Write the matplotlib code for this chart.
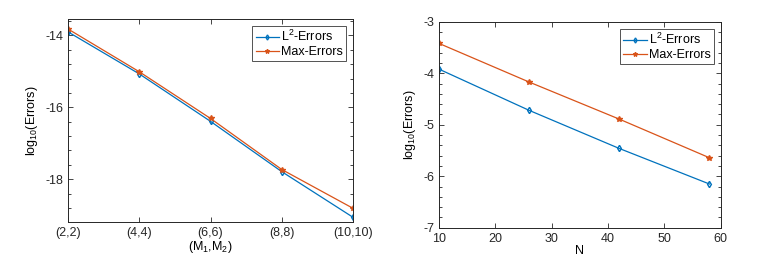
import matplotlib
matplotlib.use("Agg")
import matplotlib.pyplot as plt
from matplotlib.ticker import MultipleLocator

plt.rcParams['font.family'] = ['Liberation Sans', 'DejaVu Sans']
plt.rcParams['mathtext.fontset'] = 'custom'
plt.rcParams['mathtext.rm'] = 'Liberation Sans'
plt.rcParams['mathtext.it'] = 'Liberation Sans'
plt.rcParams['axes.unicode_minus'] = False
plt.rcParams['font.size'] = 9

# left panel: errors vs (M1,M2)
m_labels = ['(2,2)', '(4,4)', '(6,6)', '(8,8)', '(10,10)']
m_pos = [2, 4, 6, 8, 10]
l2_left = [-13.90, -15.07, -16.39, -17.79, -19.06]
max_left = [-13.82, -15.01, -16.31, -17.73, -18.81]

# right panel: errors vs N
n_vals = [10, 26, 42, 58]
l2_right = [-3.92, -4.72, -5.46, -6.15]
max_right = [-3.42, -4.17, -4.89, -5.64]

blue = '#0072BD'
orange = '#D95319'
axcol = '#262626'

fig = plt.figure(figsize=(7.61, 2.63), dpi=100)
ax1 = fig.add_axes([0.0894, 0.156, 0.3745, 0.772])
ax2 = fig.add_axes([0.577, 0.134, 0.370, 0.783])


def style(ax):
    ax.tick_params(which='both', direction='in', top=True, right=True,
                   colors=axcol, labelcolor=axcol, width=0.6)
    ax.tick_params(which='major', length=3.5)
    ax.tick_params(which='minor', length=2)
    for s in ax.spines.values():
        s.set_color(axcol)
        s.set_linewidth(0.7)


ax1.plot(m_pos, l2_left, color=blue, marker='d', mfc='none', ms=3.2, lw=0.9,
         label='L$^{2}$-Errors')
ax1.plot(m_pos, max_left, color=orange, marker='*', ms=4, lw=0.9,
         label='Max-Errors')
ax1.set_xlim(2, 10)
ax1.set_ylim(-19.19, -13.54)
ax1.set_xticks(m_pos)
ax1.set_xticklabels(m_labels)
ax1.yaxis.set_major_locator(MultipleLocator(2))
ax1.yaxis.set_minor_locator(MultipleLocator(0.4))
ax1.set_xlabel('(M$_{1}$,M$_{2}$)', labelpad=0)
ax1.set_ylabel('log$_{10}$(Errors)')
style(ax1)
leg1 = ax1.legend(loc='upper right', fancybox=False, edgecolor=axcol,
                  handlelength=1.9, borderpad=0.25, labelspacing=0.15,
                  handletextpad=0.15, borderaxespad=0.55, markerscale=0.8)
leg1.get_frame().set_linewidth(0.7)

ax2.plot(n_vals, l2_right, color=blue, marker='d', mfc='none', ms=3.2, lw=0.9,
         label='L$^{2}$-Errors')
ax2.plot(n_vals, max_right, color=orange, marker='*', ms=4, lw=0.9,
         label='Max-Errors')
ax2.set_xlim(10, 60)
ax2.set_ylim(-7, -3)
ax2.xaxis.set_major_locator(MultipleLocator(10))
ax2.yaxis.set_major_locator(MultipleLocator(1))
ax2.yaxis.set_minor_locator(MultipleLocator(0.2))
ax2.set_xlabel('N', labelpad=0)
ax2.set_ylabel('log$_{10}$(Errors)')
style(ax2)
leg2 = ax2.legend(loc='upper right', fancybox=False, edgecolor=axcol,
                  handlelength=1.9, borderpad=0.25, labelspacing=0.15,
                  handletextpad=0.15, borderaxespad=0.55, markerscale=0.8)
leg2.get_frame().set_linewidth(0.7)

fig.savefig('out.png', dpi=100)
